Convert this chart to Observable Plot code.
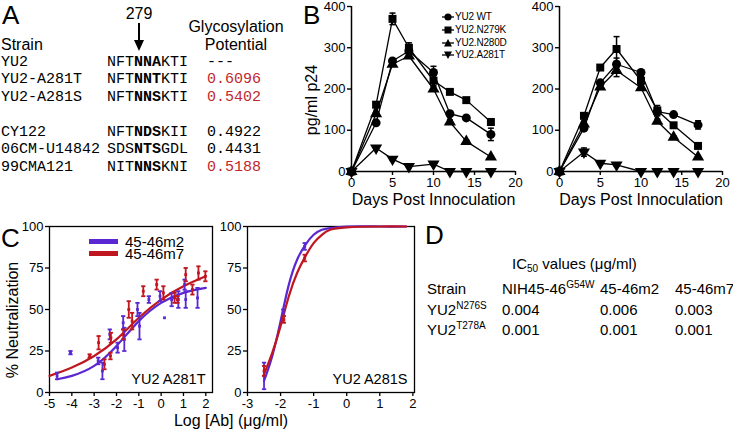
<!DOCTYPE html>
<html><head><meta charset="utf-8">
<script src="https://cdn.jsdelivr.net/npm/d3@7"></script>
<script src="https://cdn.jsdelivr.net/npm/@observablehq/plot@0.6"></script>
<style>
body{margin:0;background:#fff;}
#fig{position:relative;width:733px;height:431px;overflow:hidden;font-family:"Liberation Sans",Arial,Helvetica,sans-serif;color:#000;background:#fff;}
.abs{position:absolute;white-space:pre;line-height:1;}
.mono{font-family:"Liberation Mono","Courier New",monospace;font-size:15px;}
.plot{position:absolute;}
.plot svg{overflow:visible;display:block;}
sup.s{font-size:10px;vertical-align:6px;line-height:0;}
sub.s{font-size:10px;vertical-align:-3px;line-height:0;}
</style></head><body><div id="fig"></div><script>
// ---------- Panel A data ----------
const aStrains = ["YU2","YU2-A281T","YU2-A281S","","CY122","06CM-U14842","99CMA121"];
const aSeqPre  = ["NFT","NFT","NFT","","NFT","SDS","NIT"];
const aSeqCore = ["NNA","NNT","NNS","","NDS","NTS","NNS"];
const aSeqPost = ["KTI","KTI","KTI","","KII","GDL","KNI"];
const aGlyco   = ["---","0.6096","0.5402","","0.4922","0.4431","0.5188"];
const aGlycoRed= [false,true,true,false,false,false,true];

// ---------- Panel B data ----------
const daysB = [0,3,5,7,10,12,14,17];
const bNames = ["YU2 WT","YU2.N279K","YU2.N280D","YU2.A281T"];
const wtL    = [0,118,268,292,240,140,130,90];
const wtLerr = [0,4,4,10,15,4,3,15];
const n279kL = [0,162,370,300,220,193,173,120];
const n279kLerr = [0,5,14,12,12,4,4,8];
const n280dL = [0,140,260,280,200,120,73,35];
const n280dLerr = [0,4,5,5,5,5,3,3];
const a281tL = [0,57,30,12,18,0,0,0];
const a281tLerr = [0,3,3,2,3,0,0,0];
const wtR    = [0,105,215,260,240,145,138,113];
const wtRerr = [0,5,5,15,5,10,4,10];
const n279kR = [0,135,252,297,220,148,112,62];
const n279kRerr = [0,5,4,30,10,12,4,4];
const n280dR = [0,115,205,245,203,122,83,35];
const n280dRerr = [0,5,5,15,5,5,3,3];
const a281tR = [0,47,20,16,0,0,0,0];
const a281tRerr = [0,10,3,3,0,0,0,0];

// ---------- Panel C data ----------
const cLegend = ["45-46m2","45-46m7"];
const purpleLx = [-4.66,-4.06,-2.82,-2.63,-2.3,-1.95,-1.7,-1.65,-1.06,-0.97,-0.55,-0.05,0.15,0.47,0.77,1.05,1.1,1.63];
const purpleLy = [10,24,19,13,35,27,42,32,50,40,56,58,45,56,56,65,56,57];
const purpleLe = [2,1,2,5,3,3,4,7,4,8,2,3,0,4,5,3,5,6];
const redLx = [-3.2,-2.8,-2.54,-2.27,-2.25,-1.7,-1.45,-1.3,-0.8,-0.2,0.1,0.6,0.73,1.1,1.4,1.67,1.98];
const redLy = [22,30,17,22,33,35,50,43,61,65,60,57,56,71,62,72,70];
const redLe = [1,4,3,2,3,3,5,5,3,3,4,3,2,4,3,4,3];
const purpleLcurveX = [-4.66,-4,-3,-2,-1,0,1,2];
const purpleLcurveY = [8,10,16,28,43,54,60,63];
const redLcurveX = [-5,-4,-3,-2,-1,0,1,2];
const redLcurveY = [10,15,22,32,45,56,64,70];
const purpleRx = [-2.5,-1.92,-1.27];
const purpleRy = [10,48,88];
const purpleRe = [8,2,2];
const redRx = [-2.5,-1.9,-1.27];
const redRy = [13,44,81];
const redRe = [3,2,2];
const purpleRcurveX = [-2.5,-2.25,-2,-1.75,-1.5,-1.25,-1,-0.75,-0.5,0,1,1.8];
const purpleRcurveY = [7,22,43,65,80,89,95,98,99,100,100,100];
const redRcurveX = [-2.5,-2.25,-2,-1.75,-1.5,-1.25,-1,-0.75,-0.5,0,1,1.8];
const redRcurveY = [11,24,40,58,72,82,90,95,98,99.5,100,100];

// ---------- Panel D data ----------
const dHeaders = ["NIH45-46","45-46m2","45-46m7"];
const dHeaderSup = ["G54W","",""];
const dStrains = ["YU2","YU2"];
const dStrainSup = ["N276S","T278A"];
const dValues = [[0.004,0.006,0.003],[0.001,0.001,0.001]];

const PURPLE = "#5a28d2", RED = "#c0161f", GRED = "#c0282d";
const fig = document.getElementById("fig");
function txt(html, left, top, size, extra) {
  const d = document.createElement("div");
  d.className = "abs";
  d.style.left = left + "px"; d.style.top = top + "px"; d.style.fontSize = size + "px";
  if (extra) Object.assign(d.style, extra);
  d.innerHTML = html;
  fig.appendChild(d);
  return d;
}
function put(node, left, top) {
  const d = document.createElement("div");
  d.className = "plot"; d.style.left = left + "px"; d.style.top = top + "px";
  d.appendChild(node); fig.appendChild(d); return d;
}

// ---------- Panel letters ----------
txt("A", 2, 2, 26); txt("B", 303, 2, 26); txt("C", 1, 225, 26); txt("D", 425, 222, 26);

// ---------- Panel A ----------
txt("279", 139, 6, 16, {transform:"translateX(-50%)"});
txt("Strain", 1, 37, 16);
txt("Glycosylation", 236, 19, 16, {transform:"translateX(-50%)"});
txt("Potential", 236, 37, 16, {transform:"translateX(-50%)"});
const arrow = document.createElementNS("http://www.w3.org/2000/svg","svg");
arrow.setAttribute("width","20"); arrow.setAttribute("height","40");
arrow.innerHTML = '<line x1="10" y1="1" x2="10" y2="20" stroke="#000" stroke-width="2"/><path d="M5,18 L15,18 L10,29 Z" fill="#000"/>';
put(arrow, 129, 22);
const rowY = [62,79.5,97,114.5,132,149.5,167];
aStrains.forEach((s,i)=>{
  if (!s) return;
  const t = rowY[i] - 7.5;
  const a = txt(s, 1, t, 15); a.classList.add("mono");
  const b = txt(aSeqPre[i] + "<b>" + aSeqCore[i] + "</b>" + aSeqPost[i], 107, t, 15); b.classList.add("mono");
  const c = txt(aGlyco[i], 207, t, 15, {color: aGlycoRed[i] ? GRED : "#000"}); c.classList.add("mono");
});

// ---------- Panel B ----------
const capSym = {draw(ctx, size){ const w = Math.sqrt(size)/2; ctx.moveTo(-w,0); ctx.lineTo(w,0); }};
const downTri = {draw(ctx, size){ const y = -Math.sqrt(size/(Math.sqrt(3)*3)); const s3 = Math.sqrt(3);
  ctx.moveTo(0,-y*2); ctx.lineTo(-s3*y, y); ctx.lineTo(s3*y, y); ctx.closePath(); }};
const bSymbols = ["circle","square","triangle",downTri];
function panelB(vals, errs, width, mL, mR) {
  const marks = [
    Plot.axisY({ticks:[0,100,200,300,400], tickSize:4, tickPadding:2, strokeWidth:1.4, label:null}),
    Plot.axisX({ticks:[0,5,10,15,20], tickSize:4, tickPadding:2, strokeWidth:1.4, label:null}),
    Plot.ruleX([0], {stroke:"#000", strokeWidth:1.5}),
    Plot.ruleY([0], {stroke:"#000", strokeWidth:1.5}),
    Plot.text(["Days Post Innoculation"], {frameAnchor:"bottom", dy:33, fontSize:16}),
  ];
  vals.forEach((arr, k) => {
    const d = arr.map((v,i)=>({day: daysB[i], v, e: errs[k][i]}));
    const de = d.filter(r=>r.e>0);
    marks.push(Plot.ruleX(de, {x:"day", y1:r=>r.v-r.e, y2:r=>r.v+r.e, stroke:"#000", strokeWidth:1.5}));
    marks.push(Plot.dot(de, {x:"day", y:r=>r.v+r.e, symbol:capSym, r:3.4, stroke:"#000", strokeWidth:1.5}));
    marks.push(Plot.dot(de, {x:"day", y:r=>r.v-r.e, symbol:capSym, r:3.4, stroke:"#000", strokeWidth:1.5}));
    marks.push(Plot.line(d, {x:"day", y:"v", stroke:"#000", strokeWidth:1.3}));
    marks.push(Plot.dot(d, {x:"day", y:"v", symbol:bSymbols[k], r:4.5, fill:"#000", stroke:null}));
  });
  return Plot.plot({
    width, height: 214, marginLeft: mL, marginRight: mR, marginTop: 5, marginBottom: 44,
    x:{domain:[0,20]}, y:{domain:[0,400]},
    style:{fontFamily:"Liberation Sans, Arial, sans-serif", fontSize:"13px", background:"transparent", overflow:"visible", color:"#000"},
    marks
  });
}
const bl = panelB([wtL,n279kL,n280dL,a281tL],[wtLerr,n279kLerr,n280dLerr,a281tLerr], 235, 61, 10);
put(bl, 290, 1);
const br = panelB([wtR,n279kR,n280dR,a281tR],[wtRerr,n279kRerr,n280dRerr,a281tRerr], 233, 59, 11);
put(br, 500, 1);
txt("pg/ml p24", 312, 100, 16, {transform:"translate(-50%,-50%) rotate(-90deg)"});
// legend B
const symPaths = [
  '<circle cx="6" cy="5" r="3.6"/>',
  '<rect x="2.5" y="1.5" width="7" height="7"/>',
  '<path d="M6,1 L10,8.5 L2,8.5 Z"/>',
  '<path d="M6,9 L10,1.5 L2,1.5 Z"/>'
];
bNames.forEach((n,i)=>{
  const y = [17,30,43,55][i];
  const s = document.createElementNS("http://www.w3.org/2000/svg","svg");
  s.setAttribute("width","12"); s.setAttribute("height","10");
  s.innerHTML = '<line x1="0" y1="5" x2="12" y2="5" stroke="#000" stroke-width="1.3"/>' + '<g fill="#000">' + symPaths[i] + '</g>';
  put(s, 442, y-5);
  txt(n, 455, y-5, 10, {letterSpacing:"-0.2px"});
});

// ---------- Panel C ----------
function toRows(xs, ys, es){ return xs.map((x,i)=>({x, y: ys[i], e: es ? es[i] : 0})); }
function panelC(xDomain, xTicks, width, mL, mR, sets, label) {
  const marks = [
    Plot.frame({stroke:"#000", strokeWidth:1.3}),
    Plot.axisY({ticks:[0,25,50,75,100], tickSize:4, tickPadding:2, strokeWidth:1.3, label:null}),
    Plot.axisX({ticks:xTicks, tickSize:4, tickPadding:2, strokeWidth:1.3, tickFormat:d=>String(d), label:null}),
  ];
  sets.forEach(s=>{
    marks.push(Plot.line(s.curve, {x:"x", y:"y", stroke:s.color, strokeWidth:2.2, curve:"natural"}));
  });
  sets.forEach(s=>{
    const de = s.pts.filter(r=>r.e>0);
    marks.push(Plot.ruleX(de, {x:"x", y1:r=>r.y-r.e, y2:r=>r.y+r.e, stroke:s.color, strokeWidth:1.8}));
    marks.push(Plot.dot(de, {x:"x", y:r=>r.y+r.e, symbol:capSym, r:2.4, stroke:s.color, strokeWidth:1.8}));
    marks.push(Plot.dot(de, {x:"x", y:r=>r.y-r.e, symbol:capSym, r:2.4, stroke:s.color, strokeWidth:1.8}));
    marks.push(Plot.dot(s.pts, {x:"x", y:"y", symbol:"square", r:1.6, fill:s.color, stroke:null}));
  });
  marks.push(Plot.text([label], {frameAnchor:"bottom-right", dx:-7, dy:-9, fontSize:14.5, lineAnchor:"bottom"}));
  return Plot.plot({
    width, height: 215, marginLeft: mL, marginRight: mR, marginTop: 11, marginBottom: 38,
    x:{domain:xDomain}, y:{domain:[0,100]},
    style:{fontFamily:"Liberation Sans, Arial, sans-serif", fontSize:"13px", background:"transparent", overflow:"visible", color:"#000"},
    marks
  });
}
const cl = panelC([-5,2.3],[-5,-4,-3,-2,-1,0,1,2], 225, 49, 13, [
  {color:PURPLE, curve:toRows(purpleLcurveX,purpleLcurveY), pts:toRows(purpleLx,purpleLy,purpleLe)},
  {color:RED, curve:toRows(redLcurveX,redLcurveY), pts:toRows(redLx,redLy,redLe)}
], "YU2 A281T");
put(cl, 0, 215);
const cr = panelC([-3,2.05],[-3,-2,-1,0,1,2], 200, 22, 11, [
  {color:PURPLE, curve:toRows(purpleRcurveX,purpleRcurveY), pts:toRows(purpleRx,purpleRy,purpleRe)},
  {color:RED, curve:toRows(redRcurveX,redRcurveY), pts:toRows(redRx,redRy,redRe)}
], "YU2 A281S");
put(cr, 225, 215);
txt("% Neutralization", 13, 320, 16, {transform:"translate(-50%,-50%) rotate(-90deg)"});
txt("Log [Ab] (μg/ml)", 231, 413, 16, {transform:"translateX(-50%)"});
// legend C
cLegend.forEach((n,i)=>{
  const y = [241,253][i];
  const bar = document.createElement("div");
  Object.assign(bar.style, {position:"absolute", left:"89px", top:(y-2.5)+"px", width:"29px", height:"5px", background: i===0?PURPLE:RED});
  fig.appendChild(bar);
  txt(n, 125, y-7.5, 15);
});

// ---------- Panel D ----------
txt('IC<sub class="s">50</sub> values (μg/ml)', 512, 256, 15);
txt("Strain", 427, 281, 15);
const dColX = [502,600,675];
dHeaders.forEach((h,j)=>{
  txt(h + (dHeaderSup[j] ? '<sup class="s">' + dHeaderSup[j] + '</sup>' : ''), dColX[j], 281, 15);
});
dStrains.forEach((s,i)=>{
  const t = [309,329][i] - 7.5;
  txt(s + '<sup class="s">' + dStrainSup[i] + '</sup>', 427, t, 15);
  dValues[i].forEach((v,j)=> txt(v.toFixed(3), dColX[j], t, 15));
});
</script></body></html>
